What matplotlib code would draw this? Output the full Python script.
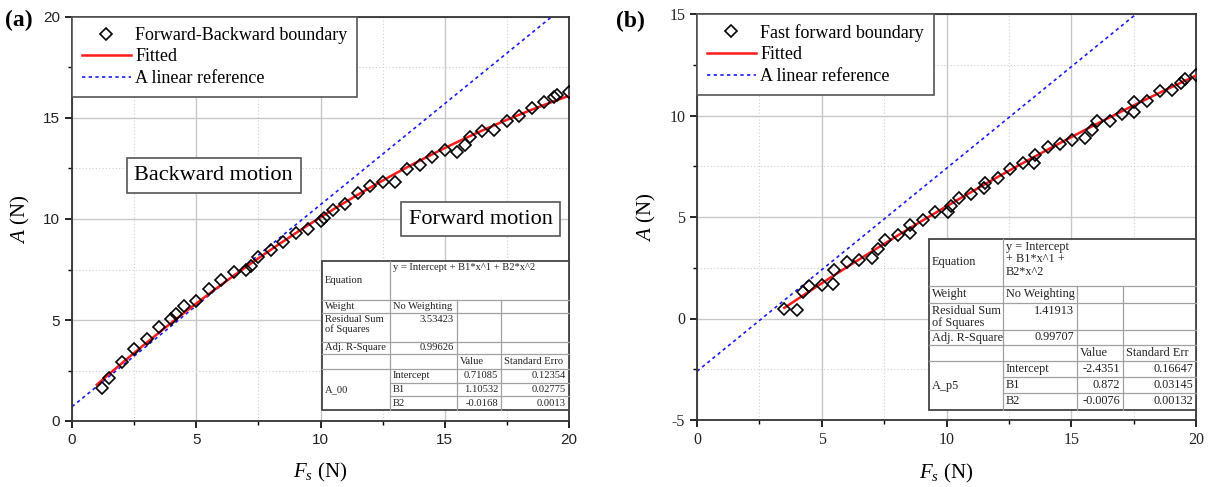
import numpy as np
import matplotlib.pyplot as plt
from matplotlib.ticker import MultipleLocator

plt.rcParams['font.family'] = ['Liberation Serif', 'DejaVu Serif']
plt.rcParams['mathtext.fontset'] = 'custom'
plt.rcParams['mathtext.rm'] = 'Liberation Serif'
plt.rcParams['mathtext.it'] = 'Liberation Serif:italic'
plt.rcParams['axes.unicode_minus'] = False

# panel (a): forward-backward boundary
xa = [1.2, 1.5, 2.0, 2.5, 3.0, 3.5, 4.0, 4.2, 4.5, 5.0, 5.5, 6.0, 6.5, 7.0, 7.2,
      7.5, 8.0, 8.5, 9.0, 9.5, 10.0, 10.15, 10.5, 11.0, 11.5, 12.0, 12.5, 13.0,
      13.5, 14.0, 14.5, 15.0, 15.5, 15.8, 16.0, 16.5, 17.0, 17.5, 18.0, 18.5,
      19.0, 19.4, 19.5, 20.0]
ya = [1.65, 2.15, 2.9, 3.55, 4.05, 4.63, 5.04, 5.29, 5.7, 5.95, 6.53, 6.97, 7.36,
      7.47, 7.69, 8.1, 8.46, 8.84, 9.31, 9.5, 9.92, 10.05, 10.45, 10.74, 11.27,
      11.65, 11.82, 11.85, 12.48, 12.68, 13.06, 13.42, 13.31, 13.67, 14.08,
      14.38, 14.41, 14.84, 15.12, 15.5, 15.79, 16.03, 16.15, 16.28]
coef_a = [0.71085, 1.10532, -0.0168]
lin_a = [0.71, 1.0]
fit_range_a = [1.0, 20.0]

# panel (b): fast forward boundary
xb = [3.5, 4.0, 4.25, 4.5, 5.0, 5.45, 5.5, 6.0, 6.5, 7.0, 7.25, 7.55, 8.05, 8.55,
      8.55, 9.05, 9.55, 10.05, 10.2, 10.5, 11.0, 11.5, 11.55, 12.05, 12.55, 13.05,
      13.5, 13.55, 14.05, 14.55, 15.05, 15.55, 15.85, 16.05, 16.55, 17.05, 17.5,
      17.5, 18.05, 18.55, 19.05, 19.4, 19.55, 20.0]
yb = [0.48, 0.44, 1.33, 1.58, 1.66, 1.71, 2.4, 2.78, 2.89, 2.98, 3.44, 3.85, 4.1,
      4.21, 4.59, 4.84, 5.25, 5.25, 5.53, 5.94, 6.15, 6.43, 6.68, 6.94, 7.34,
      7.66, 7.68, 8.04, 8.45, 8.62, 8.78, 8.91, 9.31, 9.74, 9.74, 10.07, 10.18,
      10.67, 10.72, 11.22, 11.25, 11.6, 11.8, 12.0]
coef_b = [-2.4351, 0.872, -0.0076]
lin_b = [-2.6, 1.0]
fit_range_b = [3.5, 20.0]

table_a = [
    ["Equation", "y = Intercept + B1*x^1 + B2*x^2", "", ""],
    ["Weight", "No Weighting", "", ""],
    ["Residual Sum\nof Squares", "3.53423", "", ""],
    ["Adj. R-Square", "0.99626", "", ""],
    ["", "", "Value", "Standard Erro"],
    ["A_00", "Intercept", "0.71085", "0.12354"],
    ["", "B1", "1.10532", "0.02775"],
    ["", "B2", "-0.0168", "0.0013"],
]
table_b = [
    ["Equation", "y = Intercept\n+ B1*x^1 +\nB2*x^2", "", ""],
    ["Weight", "No Weighting", "", ""],
    ["Residual Sum\nof Squares", "1.41913", "", ""],
    ["Adj. R-Square", "0.99707", "", ""],
    ["", "", "Value", "Standard Err"],
    ["A_p5", "Intercept", "-2.4351", "0.16647"],
    ["", "B1", "0.872", "0.03145"],
    ["", "B2", "-0.0076", "0.00132"],
]

W, H = 1213.0, 487.0


def draw_table(fig, rows, col_edges, row_edges, fs):
    # col_edges / row_edges in figure pixels
    tr = fig.transFigure
    fx = lambda px: px / W
    fy = lambda py: 1 - py / H
    left, right = col_edges[0], col_edges[-1]
    fig.patches.append(plt.Rectangle((fx(left), fy(row_edges[-1])), fx(right) - fx(left),
                                     fy(row_edges[0]) - fy(row_edges[-1]), transform=tr,
                                     facecolor='white', edgecolor='#444444', lw=1.3, zorder=5))
    for i, r in enumerate(row_edges[1:-1], start=1):
        x0 = col_edges[1] if i >= 6 else col_edges[0]
        fig.add_artist(plt.Line2D([fx(x0), fx(right)], [fy(r), fy(r)], transform=tr,
                                  color='#a0a0a0', lw=0.9, zorder=6))
    for j, c in enumerate(col_edges[1:-1], start=1):
        y0 = row_edges[0] if j == 1 else row_edges[1]
        fig.add_artist(plt.Line2D([fx(c), fx(c)], [fy(y0), fy(row_edges[-1])], transform=tr,
                                  color='#a0a0a0', lw=0.9, zorder=6))
    for i, row in enumerate(rows):
        yt, yb_ = row_edges[i], row_edges[i + 1]
        for j, txt in enumerate(row):
            if not txt:
                continue
            xl, xr = col_edges[j], col_edges[j + 1]
            ha, x = 'left', xl + 3
            if (j == 1 and i in (2, 3)) or (j >= 2 and i != 4):
                ha, x = 'right', xr - 3
            va, y = 'top', yt + 1.5
            if j == 0 and i == 0:
                va, y = 'center', (yt + yb_) / 2
            if j == 0 and i == 5:
                va, y = 'center', (yt + row_edges[8]) / 2
            if i in (1, 3) or (i >= 4 and j > 0):
                va, y = 'center', (yt + yb_) / 2
            fig.text(fx(x), fy(y), txt, ha=ha, va=va, fontsize=fs, transform=tr,
                     zorder=7, linespacing=1.1, color='#222222')


def style_axes(ax, ylim, yticks, tick_font, tick_size):
    ax.set_xlim(0, 20)
    ax.set_ylim(*ylim)
    ax.set_xticks([0, 5, 10, 15, 20])
    ax.set_yticks(yticks)
    ax.xaxis.set_minor_locator(MultipleLocator(2.5))
    ax.yaxis.set_minor_locator(MultipleLocator(2.5))
    ax.grid(which='major', color='#c8c8c8', lw=1.0)
    ax.grid(which='minor', color='#d0d0d0', lw=0.8, linestyle=(0, (1, 2)))
    ax.set_axisbelow(True)
    ax.tick_params(which='major', direction='out', length=5, width=1.2,
                   labelsize=tick_size, labelcolor='#222222')
    ax.tick_params(which='minor', direction='out', length=3, width=1.0)
    for lbl in ax.get_xticklabels() + ax.get_yticklabels():
        lbl.set_family(tick_font)
    for s in ax.spines.values():
        s.set_linewidth(1.3)
        s.set_color('#333333')
    ax.set_xlabel(r'$F_s$ (N)', fontsize=15, labelpad=10)
    ax.set_ylabel(r'$A$ (N)', fontsize=15, labelpad=8)


fig = plt.figure(figsize=(12.13, 4.87), dpi=100)
ax1 = fig.add_axes([72 / W, 1 - 421 / H, 497 / W, 404 / H])
ax2 = fig.add_axes([697 / W, 1 - 420 / H, 499 / W, 406 / H])

for ax, x, y, coef, lin, fr, ylim, yt, lab, tf, ts in [
        (ax1, xa, ya, coef_a, lin_a, fit_range_a, (0, 20), [0, 5, 10, 15, 20],
         'Forward-Backward boundary', 'Liberation Sans', 11),
        (ax2, xb, yb, coef_b, lin_b, fit_range_b, (-5, 15), [-5, 0, 5, 10, 15],
         'Fast forward boundary', 'Liberation Serif', 11.5)]:
    xf = np.linspace(fr[0], fr[1], 200)
    yf = coef[0] + coef[1] * xf + coef[2] * xf ** 2
    xl = np.linspace(0, 20, 50)
    yl = lin[0] + lin[1] * xl
    h1, = ax.plot(x, y, linestyle='none', marker='D', ms=6.2, mfc='none', mec='black',
                  mew=1.2, label=lab, zorder=4)
    h2, = ax.plot(xf, yf, color='#ff1a1a', lw=1.8, label='Fitted', zorder=3)
    h3, = ax.plot(xl, yl, color='#1a1aff', lw=1.2, linestyle=(0, (2, 2)),
                  label='A linear reference', zorder=2)
    style_axes(ax, ylim, yt, tf, ts)
    leg = ax.legend(handles=[h1, h2, h3], loc='upper left', fontsize=13, frameon=True,
                    fancybox=False, edgecolor='#555555', framealpha=1,
                    borderaxespad=0.0, handlelength=2.7, handletextpad=0.25,
                    labelspacing=0.25, borderpad=0.55)
    leg.get_frame().set_linewidth(1.2)

box = dict(boxstyle='square,pad=0.35', facecolor='white', edgecolor='#555555', lw=1.2)
ax1.text(5.7, 12.15, 'Backward motion', fontsize=16, ha='center', va='center', bbox=box)
ax1.text(16.45, 10.0, 'Forward motion', fontsize=16, ha='center', va='center', bbox=box)

fig.text(5 / W, 1 - 20 / H, '(a)', fontsize=17, fontweight='bold', va='center')
fig.text(616 / W, 1 - 21 / H, '(b)', fontsize=17, fontweight='bold', va='center')

draw_table(fig, table_a, [322, 390, 457, 501, 569],
           [261, 300, 313, 342, 354, 369, 383, 396, 410], 7.6)
draw_table(fig, table_b, [929, 1003, 1077, 1123, 1196],
           [239, 286, 303, 330, 345, 361, 377, 393, 410], 8.8)

fig.savefig('out.png', dpi=100)
